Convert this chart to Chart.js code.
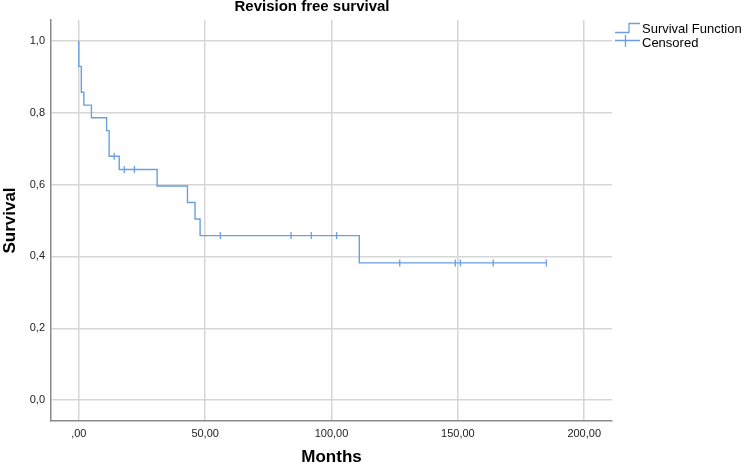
<!DOCTYPE html>
<html>
<head>
<meta charset="utf-8">
<script src="https://cdn.jsdelivr.net/npm/chart.js@4/dist/chart.umd.min.js"></script>
<style>
  html, body { margin: 0; padding: 0; background: #fff; }
  canvas { display: block; }
</style>
</head>
<body>
<canvas id="myChart" width="749" height="468"></canvas>
<script>
// Kaplan-Meier steps
let stepMonths   = [0, 0, 1, 2, 5, 11, 12, 16, 31, 43, 46, 48, 111, 185];
let stepSurvival = [1.0, 0.929, 0.857, 0.821, 0.786, 0.750, 0.679, 0.642, 0.596, 0.550, 0.504, 0.458, 0.382, 0.382];

// censored cases (the little + marks)
let censorMonths   = [14, 18, 22, 56, 84, 92, 102, 127, 149, 151, 164, 185];
let censorSurvival = [0.679, 0.642, 0.642, 0.458, 0.458, 0.458, 0.458, 0.382, 0.382, 0.382, 0.382, 0.382];

let xTicks = [0, 50, 100, 150, 200];
let yTicks = [0, 0.2, 0.4, 0.6, 0.8, 1.0];

let chartTitle = 'Revision free survival';
let legendLabels = ['Survival Function', 'Censored'];

let lineColor = '#6a9fe6';
let gridColor = '#d6d6d6';
let axisColor = '#8a8a8a';
let fontFamily = '"Liberation Sans", Arial, sans-serif';

let ctx = document.getElementById('myChart').getContext('2d');

// title + legend drawn by hand (legend has a step icon)
let extras = {
    id: 'extras',
    afterDraw: function (chart) {
        let c = chart.ctx;
        c.save();
        c.fillStyle = '#000';
        c.font = 'bold 15px ' + fontFamily;
        c.textAlign = 'center';
        c.textBaseline = 'middle';
        c.fillText(chartTitle, 312, 7);

        c.strokeStyle = lineColor;
        c.lineWidth = 1.3;
        // step icon
        c.beginPath();
        c.moveTo(615, 32.5);
        c.lineTo(629, 32.5);
        c.lineTo(629, 23.5);
        c.lineTo(640, 23.5);
        c.stroke();
        // cross icon
        c.beginPath();
        c.moveTo(615, 40.5);
        c.lineTo(640, 40.5);
        c.moveTo(625.5, 35);
        c.lineTo(625.5, 47);
        c.stroke();

        c.font = '13px ' + fontFamily;
        c.textAlign = 'left';
        c.fillStyle = '#000';
        c.fillText(legendLabels[0], 642, 29);
        c.fillText(legendLabels[1], 642, 43);
        c.restore();
    }
};

let kmChart = new Chart(ctx, {
    type: 'line',
    data: {
        datasets: [{
            label: legendLabels[0],
            data: stepMonths.map((m, i) => ({ x: m, y: stepSurvival[i] })),
            stepped: true,
            borderColor: lineColor,
            borderWidth: 1.4,
            pointRadius: 0,
            fill: false
        }, {
            label: legendLabels[1],
            data: censorMonths.map((m, i) => ({ x: m, y: censorSurvival[i] })),
            showLine: false,
            pointStyle: 'line',
            rotation: 90,
            pointRadius: 3.5,
            pointBorderColor: lineColor,
            pointBorderWidth: 1.3,
            borderColor: lineColor
        }]
    },
    options: {
        responsive: false,
        animation: false,
        layout: { padding: { left: 0, right: 137, top: 20, bottom: 0 } },
        plugins: {
            legend: { display: false },
            title: { display: false },
            tooltip: { enabled: false }
        },
        scales: {
            x: {
                type: 'linear',
                min: -11,
                max: 211,
                afterBuildTicks: function (scale) {
                    scale.ticks = xTicks.map(v => ({ value: v }));
                },
                afterFit: function (scale) { scale.height = 47; },
                grid: { color: gridColor, lineWidth: 1.5, drawTicks: false },
                border: { color: axisColor, width: 1.5 },
                ticks: {
                    padding: 6,
                    color: '#222',
                    font: { family: fontFamily, size: 11 },
                    maxRotation: 0,
                    callback: function (v) {
                        let s = v.toFixed(2).replace('.', ',');
                        return s.startsWith('0,') ? s.substring(1) : s;
                    }
                },
                title: {
                    display: true,
                    text: 'Months',
                    color: '#000',
                    font: { family: fontFamily, size: 17, weight: 'bold' },
                    padding: 0
                }
            },
            y: {
                type: 'linear',
                min: -0.058,
                max: 1.058,
                afterBuildTicks: function (scale) {
                    scale.ticks = yTicks.map(v => ({ value: v }));
                },
                afterFit: function (scale) { scale.width = 51; },
                grid: { color: gridColor, lineWidth: 1.5, drawTicks: false },
                border: { color: axisColor, width: 1.5 },
                ticks: {
                    padding: 6,
                    color: '#222',
                    font: { family: fontFamily, size: 11 },
                    callback: function (v) { return v.toFixed(1).replace('.', ','); }
                },
                title: {
                    display: true,
                    text: 'Survival',
                    color: '#000',
                    font: { family: fontFamily, size: 17, weight: 'bold' },
                    padding: 0
                }
            }
        }
    },
    plugins: [extras]
});
</script>
</body>
</html>
